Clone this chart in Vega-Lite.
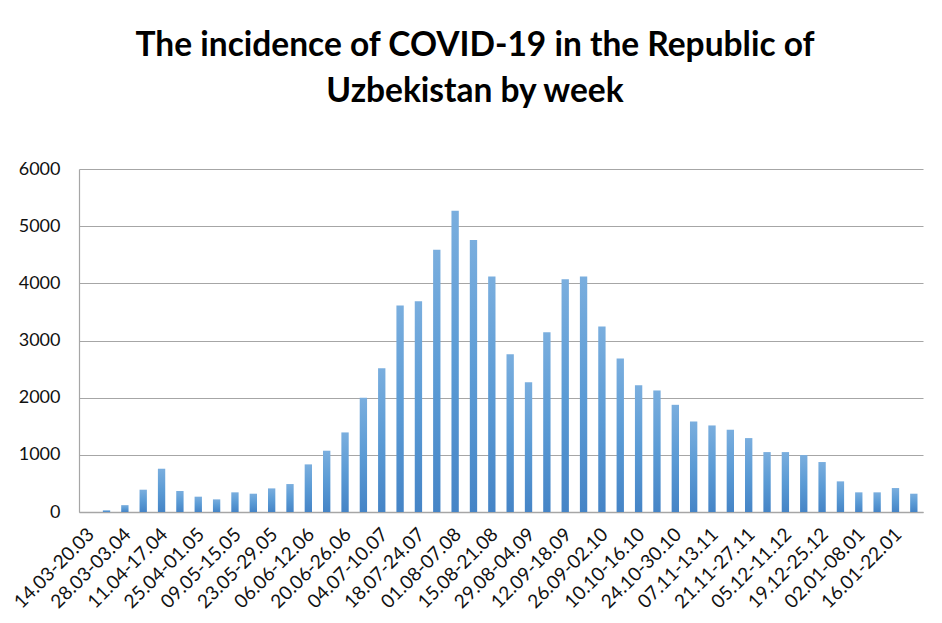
{
  "$schema": "https://vega.github.io/schema/vega-lite/v6.json",
  "width": 844,
  "height": 343,
  "autosize": {"type": "none"},
  "padding": {"left": 79, "top": 169, "right": 19, "bottom": 111},
  "background": "white",
  "title": {
    "text": ["The incidence of COVID-19 in the Republic of", "Uzbekistan by week"],
    "font": "Lato",
    "fontSize": 33.5,
    "fontWeight": "bold",
    "color": "#000000",
    "anchor": "middle",
    "frame": "group",
    "dx": -26,
    "offset": 51,
    "lineHeight": 46
  },
  "data": {
    "values": [
      {"week": "14.03-20.03", "cases": 0},
      {"week": "21.03-27.03", "cases": 30},
      {"week": "28.03-03.04", "cases": 120},
      {"week": "04.04-10.04", "cases": 390},
      {"week": "11.04-17.04", "cases": 757},
      {"week": "18.04-24.04", "cases": 367},
      {"week": "25.04-01.05", "cases": 268},
      {"week": "02.05-08.05", "cases": 221},
      {"week": "09.05-15.05", "cases": 344},
      {"week": "16.05-22.05", "cases": 320},
      {"week": "23.05-29.05", "cases": 413},
      {"week": "30.05-05.06", "cases": 489},
      {"week": "06.06-12.06", "cases": 833},
      {"week": "13.06-19.06", "cases": 1072},
      {"week": "20.06-26.06", "cases": 1392},
      {"week": "27.06-03.07", "cases": 1998},
      {"week": "04.07-10.07", "cases": 2516},
      {"week": "11.07-17.07", "cases": 3611},
      {"week": "18.07-24.07", "cases": 3687},
      {"week": "25.07-31.07", "cases": 4589},
      {"week": "01.08-07.08", "cases": 5271},
      {"week": "08.08-14.08", "cases": 4758},
      {"week": "15.08-21.08", "cases": 4118},
      {"week": "22.08-28.08", "cases": 2761},
      {"week": "29.08-04.09", "cases": 2271},
      {"week": "05.09-11.09", "cases": 3145},
      {"week": "12.09-18.09", "cases": 4071},
      {"week": "19.09-25.09", "cases": 4118},
      {"week": "26.09-02.10", "cases": 3244},
      {"week": "03.10-09.10", "cases": 2685},
      {"week": "10.10-16.10", "cases": 2219},
      {"week": "17.10-23.10", "cases": 2126},
      {"week": "24.10-30.10", "cases": 1875},
      {"week": "31.10-06.11", "cases": 1584},
      {"week": "07.11-13.11", "cases": 1514},
      {"week": "14.11-20.11", "cases": 1439},
      {"week": "21.11-27.11", "cases": 1293},
      {"week": "28.11-04.12", "cases": 1048},
      {"week": "05.12-11.12", "cases": 1048},
      {"week": "12.12-18.12", "cases": 996},
      {"week": "19.12-25.12", "cases": 874},
      {"week": "26.12-01.01", "cases": 536},
      {"week": "02.01-08.01", "cases": 344},
      {"week": "09.01-15.01", "cases": 344},
      {"week": "16.01-22.01", "cases": 419},
      {"week": "23.01-29.01", "cases": 320}
    ]
  },
  "mark": {
    "type": "bar",
    "color": {
      "gradient": "linear",
      "x1": 0, "y1": 0, "x2": 0, "y2": 1,
      "stops": [
        {"offset": 0, "color": "#7aaede"},
        {"offset": 0.5, "color": "#5b9bd5"},
        {"offset": 1, "color": "#4584c6"}
      ]
    }
  },
  "encoding": {
    "x": {
      "field": "week",
      "type": "ordinal",
      "sort": null,
      "title": null,
      "scale": {"paddingInner": 0.6, "paddingOuter": 0.3},
      "axis": {
        "values": ["14.03-20.03", "28.03-03.04", "11.04-17.04", "25.04-01.05", "09.05-15.05", "23.05-29.05", "06.06-12.06", "20.06-26.06", "04.07-10.07", "18.07-24.07", "01.08-07.08", "15.08-21.08", "29.08-04.09", "12.09-18.09", "26.09-02.10", "10.10-16.10", "24.10-30.10", "07.11-13.11", "21.11-27.11", "05.12-11.12", "19.12-25.12", "02.01-08.01", "16.01-22.01"],
        "labelAngle": -45,
        "labelAlign": "right",
        "labelBaseline": "middle",
        "labelPadding": 19,
        "labelOffset": 3,
        "labelFont": "Lato",
        "labelFontSize": 19,
        "labelColor": "#111111",
        "ticks": false,
        "domainColor": "#a6a6a6",
        "domainWidth": 1.5,
        "labelOverlap": false
      }
    },
    "y": {
      "field": "cases",
      "type": "quantitative",
      "title": null,
      "scale": {"domain": [0, 6000], "nice": false},
      "axis": {
        "values": [0, 1000, 2000, 3000, 4000, 5000, 6000],
        "format": "d",
        "labelFont": "Lato",
        "labelFontSize": 18,
        "labelColor": "#111111",
        "labelPadding": 19,
        "ticks": false,
        "domainColor": "#a6a6a6",
        "domainWidth": 1.2,
        "gridColor": "#a6a6a6",
        "gridWidth": 1.2
      }
    }
  },
  "config": {
    "view": {"stroke": null}
  }
}
